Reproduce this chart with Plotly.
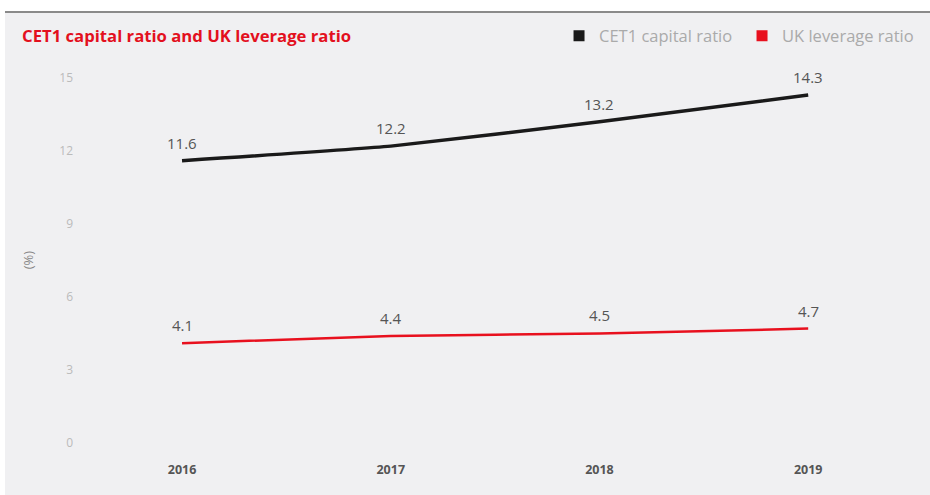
import plotly.graph_objects as go

years = ["2016", "2017", "2018", "2019"]
cet1 = [11.6, 12.2, 13.2, 14.3]
leverage = [4.1, 4.4, 4.5, 4.7]
y_ticks = [0, 3, 6, 9, 12, 15]

BG = "#f0f0f2"
LABEL = "#555555"
fig = go.Figure()

fig.add_trace(go.Scatter(
    x=years, y=cet1, mode="lines",
    line=dict(color="#1a1a1a", width=3.5, shape="spline", smoothing=0.4), showlegend=False,
))
fig.add_trace(go.Scatter(
    x=years, y=leverage, mode="lines",
    line=dict(color="#e8101e", width=2.5, shape="spline", smoothing=0.4), showlegend=False,
))
fig.add_trace(go.Scatter(x=[None], y=[None], mode="markers", name="CET1 capital ratio",
                         marker=dict(symbol="square", size=11, color="#1a1a1a")))
fig.add_trace(go.Scatter(x=[None], y=[None], mode="markers", name="UK leverage ratio",
                         marker=dict(symbol="square", size=11, color="#e8101e")))

annotations = []
for series in (cet1, leverage):
    for i, v in enumerate(series):
        annotations.append(dict(x=i, y=v, xref="x", yref="y", text=f"{v:.1f}", showarrow=False,
                                yanchor="bottom", yshift=6,
                                font=dict(size=15, color=LABEL, family="Open Sans")))
annotations.append(dict(text="<b>CET1 capital ratio and UK leverage ratio</b>",
                        xref="paper", yref="paper", x=-0.1026, y=1.06,
                        xanchor="left", yanchor="middle", showarrow=False,
                        font=dict(size=16.7, color="#e3101e", family="Open Sans")))

fig.update_layout(
    width=945, height=500,
    paper_bgcolor=BG, plot_bgcolor=BG,
    margin=dict(l=100, r=65, t=60, b=40, autoexpand=False),
    font=dict(family="Open Sans", color=LABEL),
    legend=dict(orientation="h", x=0.5885, xanchor="left", y=0.928, yanchor="middle",
                yref="container", font=dict(size=16.5, color="#aaaaaa"),
                entrywidth=138, entrywidthmode="pixels",
                tracegroupgap=0, bgcolor="rgba(0,0,0,0)"),
    annotations=annotations,
    shapes=[
        dict(type="rect", xref="paper", yref="paper", x0=-0.2, x1=1.2, y0=1.12, y1=1.2,
             fillcolor="white", line=dict(width=0), layer="below"),
        dict(type="rect", xref="paper", yref="paper", x0=-0.2, x1=-0.1218, y0=-0.2, y1=1.2,
             fillcolor="white", line=dict(width=0), layer="below"),
        dict(type="line", xref="paper", yref="paper", x0=-0.1218, x1=1.2, y0=1.12, y1=1.12,
             line=dict(color="#8a8a8a", width=2)),
    ],
)

fig.update_xaxes(type="category", range=[-0.393, 3.344], showgrid=False, zeroline=False,
                 showline=False, ticks="", tickfont=dict(size=12.5, color=LABEL, family="Open Sans"),
                 tickprefix="<b>", ticksuffix="</b>")
fig.update_yaxes(range=[-0.7, 15.74], tickvals=y_ticks, showgrid=False, zeroline=False,
                 showline=False, ticks="", tickfont=dict(size=12, color="#bbbbbb"),
                 ticklabelstandoff=26,
                 title=dict(text="(%)", font=dict(size=13, color="#888888"), standoff=22))

fig.write_html("out.html", config={"displayModeBar": False},
               post_script="document.body.style.margin='0';document.body.style.overflow='hidden';"
                           "document.documentElement.style.overflow='hidden';"
                           "document.body.style.background='" + BG + "';"
                           "document.documentElement.style.background='" + BG + "';")
